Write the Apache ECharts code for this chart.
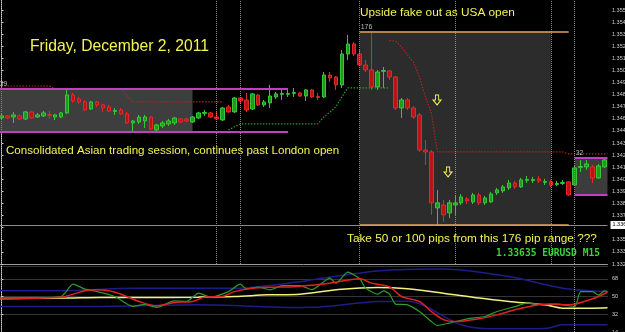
<!DOCTYPE html>
<html>
<head>
<meta charset="utf-8">
<script src="https://cdn.jsdelivr.net/npm/echarts@6/dist/echarts.min.js"></script>
<style>
html, body { margin: 0; padding: 0; background: #000; }
#chart { width: 625px; height: 332px; }
</style>
</head>
<body>
<div id="chart"></div>
<script>
// EURUSD M15, Friday 2 Dec 2011 -- bars [open, close, low, high]
var candles = [
    [1.34608,1.34627,1.34590,1.34645],[1.34627,1.34608,1.34599,1.34636],[1.34617,1.34636,1.34563,1.34663],
    [1.34627,1.34599,1.34590,1.34645],[1.34599,1.34663,1.34590,1.34672],[1.34663,1.34608,1.34599,1.34672],
    [1.34617,1.34636,1.34608,1.34654],[1.34627,1.34654,1.34617,1.34672],[1.34640,1.34632,1.34599,1.34672],
    [1.34617,1.34636,1.34590,1.34645],[1.34617,1.34654,1.34608,1.34663],[1.34654,1.34817,1.34645,1.34863],
    [1.34817,1.34763,1.34745,1.34836],[1.34781,1.34754,1.34736,1.34799],[1.34754,1.34681,1.34672,1.34772],
    [1.34690,1.34754,1.34681,1.34763],[1.34754,1.34727,1.34708,1.34763],[1.34727,1.34699,1.34663,1.34736],
    [1.34708,1.34672,1.34663,1.34727],[1.34668,1.34676,1.34636,1.34699],[1.34681,1.34645,1.34636,1.34699],
    [1.34645,1.34563,1.34554,1.34663],[1.34563,1.34581,1.34481,1.34590],[1.34572,1.34617,1.34554,1.34636],
    [1.34581,1.34617,1.34517,1.34636],[1.34617,1.34508,1.34499,1.34627],[1.34499,1.34545,1.34481,1.34554],
    [1.34536,1.34563,1.34517,1.34581],[1.34554,1.34581,1.34536,1.34599],[1.34563,1.34608,1.34545,1.34617],
    [1.34599,1.34572,1.34563,1.34608],[1.34599,1.34581,1.34572,1.34608],[1.34572,1.34617,1.34563,1.34627],
    [1.34608,1.34654,1.34599,1.34663],[1.34650,1.34658,1.34627,1.34681],[1.34654,1.34617,1.34608,1.34663],
    [1.34617,1.34599,1.34590,1.34663],[1.34590,1.34699,1.34581,1.34708],[1.34708,1.34663,1.34654,1.34727],
    [1.34663,1.34790,1.34654,1.34799],[1.34790,1.34763,1.34745,1.34799],[1.34772,1.34681,1.34663,1.34836],
    [1.34690,1.34827,1.34681,1.34836],[1.34817,1.34727,1.34717,1.34827],[1.34727,1.34754,1.34708,1.34772],
    [1.34745,1.34808,1.34699,1.34908],[1.34799,1.34827,1.34781,1.34845],[1.34823,1.34831,1.34772,1.34881],
    [1.34823,1.34831,1.34799,1.34863],[1.34832,1.34840,1.34799,1.34881],[1.34836,1.34808,1.34799,1.34845],
    [1.34808,1.34863,1.34763,1.34872],[1.34863,1.34799,1.34790,1.34872],[1.34803,1.34795,1.34772,1.34836],
    [1.34799,1.34999,1.34790,1.35026],[1.34999,1.34972,1.34936,1.35026],[1.34981,1.34908,1.34863,1.34990],
    [1.34908,1.35190,1.34881,1.35226],[1.35190,1.35281,1.35136,1.35363],[1.35281,1.35190,1.35172,1.35299],
    [1.35190,1.35090,1.35081,1.35226],[1.35090,1.35045,1.35026,1.35136],[1.35045,1.34890,1.34863,1.35395],
    [1.34890,1.35026,1.34863,1.35045],[1.35032,1.35040,1.34881,1.35072],[1.35036,1.34981,1.34954,1.35045],
    [1.34981,1.34699,1.34681,1.34990],[1.34699,1.34772,1.34608,1.34790],[1.34772,1.34699,1.34681,1.34790],
    [1.34699,1.34617,1.34599,1.34717],[1.34636,1.34317,1.34299,1.34654],[1.34317,1.34299,1.34181,1.34408],
    [1.34299,1.33836,1.33727,1.34317],[1.33790,1.33836,1.33635,1.33954],[1.33817,1.33727,1.33663,1.33863],
    [1.33745,1.33836,1.33699,1.33863],[1.33817,1.33836,1.33727,1.33908],[1.33836,1.33890,1.33817,1.33917],
    [1.33872,1.33854,1.33826,1.33890],[1.33845,1.33908,1.33826,1.33927],[1.33908,1.33836,1.33817,1.33927],
    [1.33836,1.33881,1.33817,1.33899],[1.33845,1.33917,1.33836,1.33936],[1.33927,1.33954,1.33908,1.33972],
    [1.33945,1.33981,1.33927,1.33999],[1.33972,1.34017,1.33954,1.34045],[1.34017,1.33981,1.33963,1.34036],
    [1.33981,1.34045,1.33972,1.34063],[1.34041,1.34049,1.34017,1.34081],[1.34040,1.34048,1.34017,1.34072],
    [1.34054,1.34036,1.34017,1.34081],[1.34023,1.34031,1.33999,1.34054],[1.34027,1.33999,1.33981,1.34045],
    [1.34004,1.34012,1.33990,1.34036],[1.34013,1.34021,1.33999,1.34045],[1.34027,1.33908,1.33899,1.34036],
    [1.33999,1.34154,1.33990,1.34181],[1.34159,1.34167,1.34117,1.34226],[1.34163,1.34190,1.34136,1.34226],
    [1.34163,1.34063,1.34017,1.34181],[1.34063,1.34172,1.34054,1.34190],[1.34163,1.34226,1.34154,1.34235]
];

// bar times, 15 minutes each, from 22:00 the evening before
var categories = [];
for (var k = 0; k < candles.length; k++) {
    var m = (22 * 60 + k * 15) % 1440;
    categories.push(('0' + Math.floor(m / 60)).slice(-2) + ':' + ('0' + m % 60).slice(-2));
}

var bidPrice = 1.33635;

// ranges drawn on the chart: [from bar, to bar, line end bar, high, low, label]
var asiaBox = [-0.5, 32, 48, 1.34872, 1.34481, '39'];
var usaBox  = [60, 92, 95, 1.35395, 1.33635, '176'];
var lateBox = [96, 101.5, 101.5, 1.34245, 1.33908, '32'];

var sessionBars  = [36, 40, 60, 76, 92];
var sessionNames = ['Frankfurt Open', 'London Open', 'New York Open', 'London Close', 'New York Close'];
var separatorBars = [0, 96];

// hand-drawn arrows (bar, price)
var arrows = [[72.95, 1.34772], [74.8, 1.34117]];

// trailing stop line (bar, price)
var stopRed1 = [[-0.5,1.34899],[8,1.34899],[9,1.34872],[20,1.34872],[22,1.34754],[37,1.34754]];
var stopGreen = [[38,1.34499],[40,1.34554],[53,1.34554],[54,1.34617],[56,1.34708],[57,1.34799],[58,1.34881],[65,1.34881]];
var stopRed2 = [[65,1.35311],[66,1.35308],[67,1.35254],[68,1.35181],[69,1.35117],[70,1.34981],[71,1.34800],
    [72,1.34654],[73,1.34299],[94,1.34299],[95,1.34281],[101.5,1.34281]];

// lower panel (bar, value)
var tdiGreen = [[-0.5,48.4],[5,48.5],[10,50],[12,62.6],[14,57.5],[16,55],[19,50],[22,40],[24,42],[26,39],[29,45.6],
    [31,45],[33,53.4],[35,49.4],[38,55],[40,62.6],[41,57.8],[43,59.5],[45,56.8],[47,61],[50,61],[52,57],[55,68.7],
    [56,63.6],[58,74.8],[60,68],[61,58.5],[63,52.4],[64,55.8],[65,52.4],[66,42.3],[68,41.6],[70,34.8],[72,24.6],
    [73,20.6],[75,23],[78,27.4],[81,29.7],[83,34.8],[86,39.8],[88,43.3],[91,41.6],[93,42.3],[96,39.8],[97,55],
    [99,55],[100,51.4],[101,55.8],[101.5,55]];
var tdiRed = [[-0.5,47.4],[10,49.4],[12,52.4],[14,55.8],[16,56.8],[19,54.4],[21,50],[23,45],[26,40.6],[29,44],
    [32,45],[34,49.4],[37,50],[39,55],[42,58.5],[45,59.5],[49,60],[51,61],[55,63.6],[60,68],[62,63.6],[65,59.8],
    [67,50],[70,45],[72,34.8],[74,26.6],[76,24.6],[80,27.4],[83,31.4],[86,36.5],[90,41.6],[92,42.3],[95,41.6],
    [99,47.7],[101.5,54.4]];
var tdiYellow = [[-0.5,48],[11,48.4],[16.5,49],[22,49],[33,49.4],[39,50],[44.5,51.7],[50,52.4],[57,57.5],[63,59.1],
    [68,57.8],[74,53.4],[80,48.4],[85,45],[91,41.6],[94,38.2],[99,38.2],[101.5,38.5]];
var bandUp = [[-0.5,55.8],[10,55.8],[22,58.5],[39,58.5],[50,65],[52,67],[63,76],[74,78],[85,70.3],[94,58.5],[101.5,55]];
var bandLow = [[-0.5,40],[16.5,40],[33,41.6],[50,38.9],[52,39],[63,45],[68,45.3],[77,21.3],[82,17.2],[91,17.5],[94,21.3],[101.5,21.3]];

var yellow = '#f4f455';
var font = '"Liberation Sans", Arial, sans-serif';

function boxArea(b, fill) {
    return [{ coord: [b[0], b[3]], itemStyle: { color: fill } }, { coord: [b[1], b[4]] }];
}
function boxLine(b, price, color, width, label) {
    return [
        {
            coord: [b[0], price],
            lineStyle: { color: color, width: width, type: 'solid' },
            label: label ? { show: true, formatter: label, position: 'insideStartTop', distance: 1,
                color: '#b8b8b8', fontSize: 7, fontFamily: font } : { show: false }
        },
        { coord: [b[2], price] }
    ];
}

var sessionLines = sessionBars.map(function (b) { return { xAxis: b }; });
var sessionLabels = sessionBars.map(function (b, i) {
    return [
        { coord: [b, bidPrice + 0.0002], name: sessionNames[i] },
        { coord: [b, bidPrice + 0.0040] }
    ];
});

var myChart = echarts.init(document.getElementById('chart'));
var option = {
    backgroundColor: '#000',
    animation: false,
    grid: [
        { left: -1.5, right: 17.5, top: 0, height: 264, containLabel: false, outerBoundsMode: 'none' },
        { left: -1.5, right: 17.5, top: 266, bottom: 0, containLabel: false, outerBoundsMode: 'none' }
    ],
    xAxis: [
        {
            type: 'category', gridIndex: 0, data: categories, boundaryGap: true,
            axisLine: { show: true, lineStyle: { color: '#9a9a9a', width: 1 } },
            axisTick: { show: false }, axisLabel: { show: false }, splitLine: { show: false }
        },
        { type: 'value', gridIndex: 0, min: -0.5, max: 101.5, show: false },
        { type: 'value', gridIndex: 1, min: -0.5, max: 101.5, show: false }
    ],
    yAxis: [
        {
            type: 'value', gridIndex: 0, position: 'right', offset: 2.5,
            min: 1.3328, max: 1.35681, interval: 0.0011, scale: true,
            axisLine: { show: true, lineStyle: { color: '#d0d0d0', width: 1 } },
            axisTick: { show: true, length: 2, lineStyle: { color: '#d0d0d0' } },
            axisLabel: { show: true, showMaxLabel: false, color: '#d0d0d0', fontSize: 5.5, fontFamily: font, margin: 2,
                formatter: function (v) { return v.toFixed(5); } },
            splitLine: { show: false }
        },
        {
            type: 'value', gridIndex: 1, position: 'right', offset: 2.5,
            min: 14, max: 81, interval: 18,
            axisLine: { show: true, lineStyle: { color: '#d0d0d0', width: 1 } },
            axisTick: { show: true, length: 2, lineStyle: { color: '#d0d0d0' } },
            axisLabel: { show: true, showMaxLabel: false, color: '#d0d0d0', fontSize: 5.5, fontFamily: font, margin: 2 },
            splitLine: { show: true, lineStyle: { color: '#6a6a6a', type: 'dotted', width: 1 } }
        }
    ],
    graphic: [
        { type: 'text', silent: true, style: { text: 'Friday, December 2, 2011', x: 30, y: 47, fill: yellow,
            font: '15.7px ' + font, align: 'left', verticalAlign: 'middle' } },
        { type: 'text', silent: true, style: { text: 'Upside fake out as USA open', x: 360, y: 13, fill: yellow,
            font: '11.8px ' + font, align: 'left', verticalAlign: 'middle' } },
        { type: 'text', silent: true, style: { text: 'Consolidated Asian trading session, continues past London open',
            x: 6, y: 151, fill: yellow, font: '11.6px ' + font, align: 'left', verticalAlign: 'middle' } },
        { type: 'text', silent: true, style: { text: 'Take 50 or 100 pips from this 176 pip range ???', x: 347, y: 239,
            fill: yellow, font: '11.8px ' + font, align: 'left', verticalAlign: 'middle' } },
        { type: 'text', silent: true, style: { text: '1.33635 EURUSD M15', x: 496, y: 253, fill: '#3ad43a',
            font: 'bold 9.6px "DejaVu Sans Mono", monospace', align: 'left', verticalAlign: 'middle' } }
    ],
    series: [
        {
            name: 'ranges', type: 'line', xAxisIndex: 1, yAxisIndex: 0, data: [], silent: true,
            markArea: {
                silent: true,
                data: [boxArea(asiaBox, '#3e3e3e'), boxArea(usaBox, '#2c2c2c'), boxArea(lateBox, '#3c3c3c')]
            }
        },
        {
            name: 'sessions', type: 'line', xAxisIndex: 1, yAxisIndex: 0, data: [], silent: true,
            markLine: {
                silent: true, symbol: 'none',
                lineStyle: { color: '#8a8a8a', type: 'dotted', width: 1 },
                label: { show: false },
                data: sessionLines.concat(separatorBars.map(function (b) { return { xAxis: b }; }))
            }
        },
        {
            name: 'session names', type: 'line', xAxisIndex: 1, yAxisIndex: 0, data: [], silent: true,
            markLine: {
                silent: true, symbol: 'none',
                lineStyle: { opacity: 0 },
                label: { show: true, position: 'insideStartBottom', distance: 1, formatter: '{b}',
                    color: '#8c8c8c', fontSize: 4.5, fontFamily: font },
                data: sessionLabels
            }
        },
        {
            name: 'bid', type: 'line', xAxisIndex: 1, yAxisIndex: 0, data: [], silent: true,
            markLine: {
                silent: true, symbol: 'none',
                lineStyle: { color: '#8c8c8c', type: 'solid', width: 1 },
                label: { show: true, position: 'end', distance: 3, formatter: bidPrice.toFixed(5),
                    backgroundColor: '#ffffff', color: '#000', fontSize: 5.5, fontFamily: font, padding: [1, 2] },
                data: [[{ coord: [-0.5, bidPrice] }, { coord: [101.5, bidPrice] }]]
            }
        },
        {
            name: 'EURUSD', type: 'candlestick', xAxisIndex: 0, yAxisIndex: 0, data: candles, barWidth: 4,
            itemStyle: { color: '#1f9a1f', color0: '#b81414', borderColor: '#36c936', borderColor0: '#e02a2a', borderWidth: 1 }
        },
        {
            name: 'range lines', type: 'line', xAxisIndex: 1, yAxisIndex: 0, data: [], silent: true,
            markLine: {
                silent: true, symbol: 'none',
                data: [
                    boxLine(asiaBox, asiaBox[3], '#c23fc2', 2, asiaBox[5]),
                    boxLine(asiaBox, asiaBox[4], '#c23fc2', 2),
                    boxLine(usaBox, usaBox[3], '#e6a05a', 1.5, usaBox[5]),
                    boxLine(usaBox, usaBox[4], '#e6a05a', 1.5),
                    boxLine(lateBox, lateBox[3], '#c23fc2', 2, lateBox[5]),
                    boxLine(lateBox, lateBox[4], '#c23fc2', 2)
                ]
            },
            markPoint: {
                silent: true,
                symbol: 'path://M3,0 L7,0 L7,5 L10,5 L5,10 L0,5 L3,5 Z',
                symbolSize: [8, 10],
                itemStyle: { color: 'rgba(0,0,0,0)', borderColor: yellow, borderWidth: 1 },
                label: { show: false },
                data: arrows.map(function (a) { return { coord: a }; })
            }
        },
        { name: 'stop', type: 'line', xAxisIndex: 1, yAxisIndex: 0, data: stopRed1, showSymbol: false, silent: true,
            lineStyle: { color: '#b82020', width: 1.2, type: [1.5, 1.5] } },
        { name: 'stop up', type: 'line', xAxisIndex: 1, yAxisIndex: 0, data: stopGreen, showSymbol: false, silent: true,
            lineStyle: { color: '#22a022', width: 1.2, type: [1.5, 1.5] } },
        { name: 'stop 2', type: 'line', xAxisIndex: 1, yAxisIndex: 0, data: stopRed2, showSymbol: false, silent: true,
            lineStyle: { color: '#b82020', width: 1.2, type: [1.5, 1.5] } },

        {
            name: 'separators', type: 'line', xAxisIndex: 2, yAxisIndex: 1, data: [], silent: true,
            markLine: {
                silent: true, symbol: 'none', label: { show: false },
                lineStyle: { color: '#8a8a8a', type: 'dotted', width: 1 },
                data: separatorBars.map(function (b) { return { xAxis: b }; })
            }
        },
        { name: 'upper band', type: 'line', xAxisIndex: 2, yAxisIndex: 1, data: bandUp, smooth: 0.3, showSymbol: false,
            lineStyle: { color: '#1d1d8a', width: 1.5 } },
        { name: 'lower band', type: 'line', xAxisIndex: 2, yAxisIndex: 1, data: bandLow, smooth: 0.3, showSymbol: false,
            lineStyle: { color: '#1d1d8a', width: 1.5 } },
        { name: 'base', type: 'line', xAxisIndex: 2, yAxisIndex: 1, data: tdiYellow, smooth: 0.3, showSymbol: false,
            lineStyle: { color: '#f2f27c', width: 1.5 } },
        { name: 'price', type: 'line', xAxisIndex: 2, yAxisIndex: 1, data: tdiGreen, smooth: 0.2, showSymbol: false,
            lineStyle: { color: '#2c9c2c', width: 1.2 } },
        { name: 'signal', type: 'line', xAxisIndex: 2, yAxisIndex: 1, data: tdiRed, smooth: 0.3, showSymbol: false,
            lineStyle: { color: '#e02222', width: 1.5 } }
    ]
};

option && myChart.setOption(option);
</script>
</body>
</html>
